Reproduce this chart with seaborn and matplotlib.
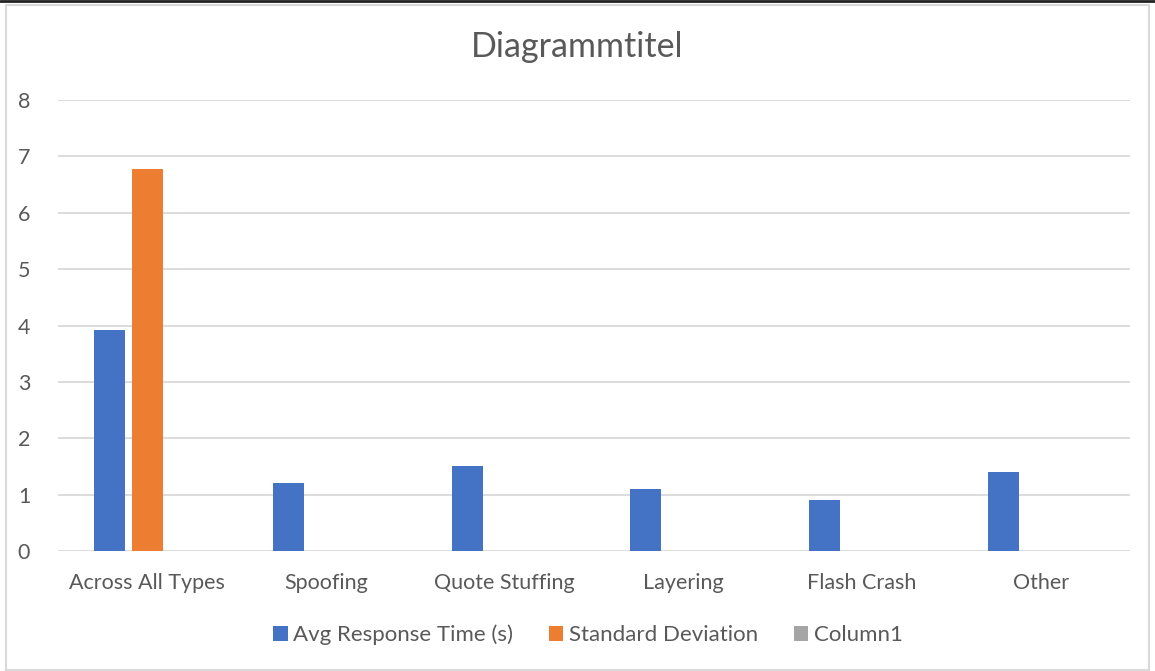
import matplotlib
matplotlib.use("Agg")
import matplotlib.pyplot as plt
import seaborn as sns
import pandas as pd
import numpy as np
from matplotlib.patches import Patch, Rectangle
from matplotlib.lines import Line2D

categories = ["Across All Types", "Spoofing", "Quote Stuffing", "Layering", "Flash Crash", "Other"]
series_names = ["Avg Response Time (s)", "Standard Deviation", "Column1"]
avg_response = [3.92, 1.2, 1.5, 1.1, 0.9, 1.4]
std_dev = [6.77, np.nan, np.nan, np.nan, np.nan, np.nan]
column1 = [np.nan] * 6
colors = ["#4472C4", "#ED7D31", "#A5A5A5"]
yticks = [0, 1, 2, 3, 4, 5, 6, 7, 8]

rows = []
for name, vals in zip(series_names, [avg_response, std_dev, column1]):
    for c, v in zip(categories, vals):
        rows.append({"category": c, "series": name, "value": v})
df = pd.DataFrame(rows)

sns.set_style("white")
plt.rcParams["font.family"] = ["Lato", "DejaVu Sans"]

fig = plt.figure(figsize=(11.55, 6.71), dpi=100)
ax = fig.add_axes([58/1155, 1-551/671, (1130-58)/1155, (551-100)/671])

sns.barplot(data=df, x="category", y="value", hue="series", order=categories,
            hue_order=series_names, palette=colors, saturation=1, width=0.627, gap=0.17,
            linewidth=0, ax=ax, legend=False, errorbar=None)

ax.set_ylim(0, 8)
ax.set_xlim(-0.5, len(categories) - 0.5)
ax.set_yticks(yticks)
ax.set_yticklabels([str(t) for t in yticks])
ax.yaxis.grid(True, color="#D9D9D9", linewidth=1.3)
ax.set_axisbelow(True)
for s in ax.spines.values():
    s.set_visible(False)
ax.tick_params(axis="both", length=0, labelsize=15.5, colors="#595959")
ax.tick_params(axis="y", pad=20)
ax.tick_params(axis="x", pad=16)
ax.set_xlabel("")
ax.set_ylabel("")

fig.text(0.5, 1-47/671, "Diagrammtitel", ha="center", va="center", fontsize=24.5, color="#595959")

handles = [Patch(facecolor=c, edgecolor="none") for c in colors]
fig.legend(handles, series_names, loc="center", bbox_to_anchor=(0.509, 1-635/671), ncol=3,
           frameon=False, fontsize=16, labelcolor="#595959", handlelength=0.65,
           handleheight=0.65, handletextpad=0.25, columnspacing=1.6)

# chart border
fig.patches.append(Rectangle((6/1155, 0.002), 1-12/1155, 0.99, transform=fig.transFigure,
                             fill=False, edgecolor="#D9D9D9", linewidth=1.5))
fig.lines.append(Line2D([0, 1], [1-1/671, 1-1/671], transform=fig.transFigure, color="#222222", linewidth=2))

fig.savefig("out.png", dpi=100)
